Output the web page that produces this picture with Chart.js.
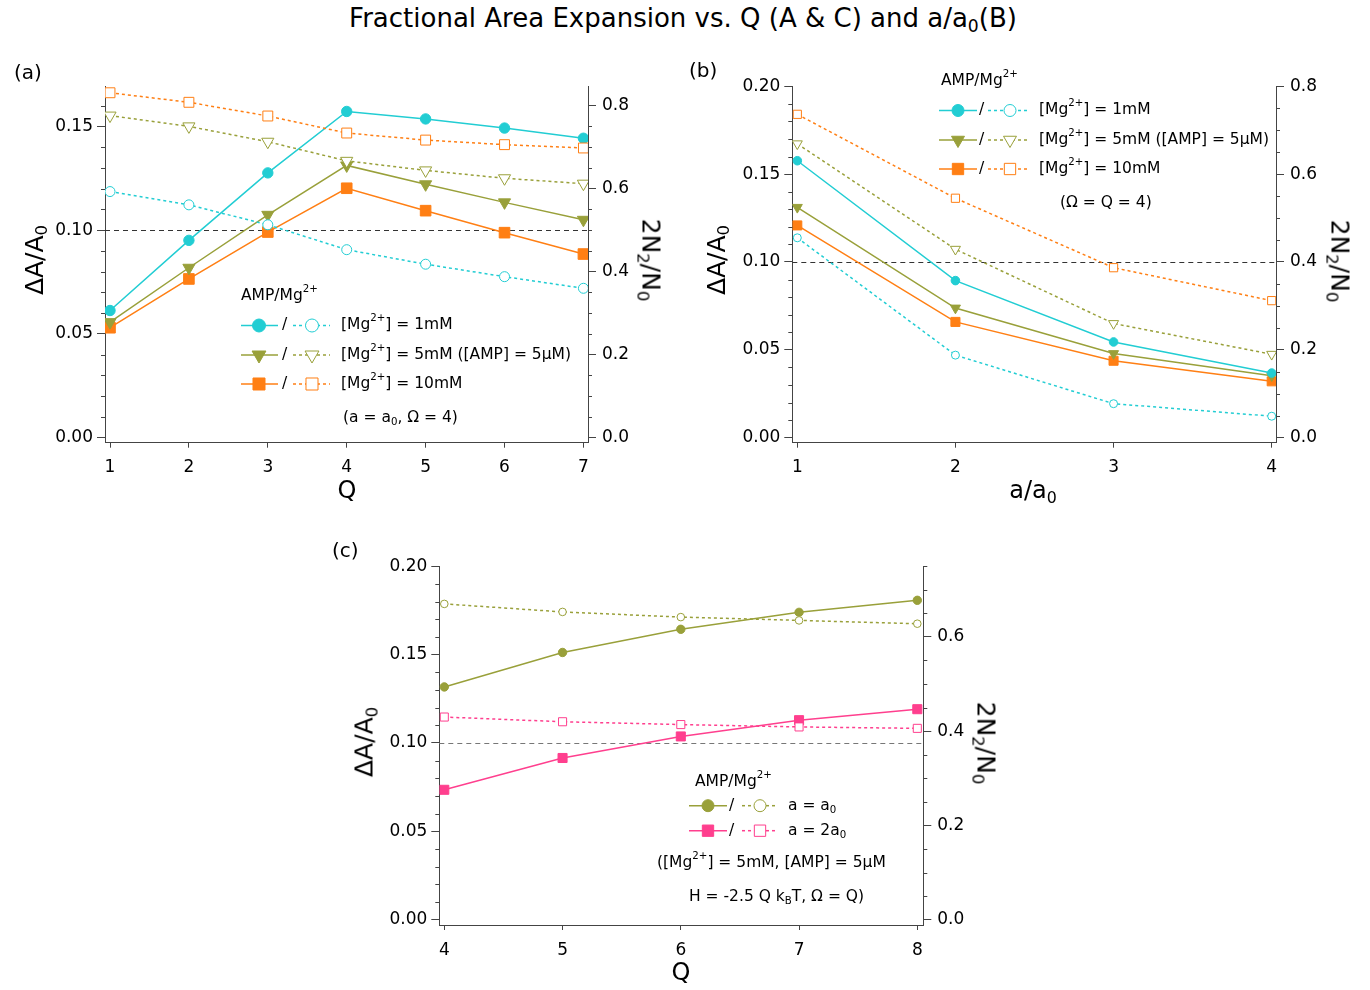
<!DOCTYPE html>
<html>
<head>
<meta charset="utf-8">
<script src="https://cdn.jsdelivr.net/npm/chart.js@4.4.1/dist/chart.umd.min.js"></script>
<style>
  body { margin: 0; background: #fff; }
  #page { position: relative; width: 1370px; height: 990px; overflow: hidden; font-family: "DejaVu Sans", sans-serif; color: #000; }
  canvas { position: absolute; }
  .t { position: absolute; white-space: nowrap; line-height: 1; transform: translateY(-50%); font-size: 15.5px; }
  .t sub { font-size: 0.66em; vertical-align: -0.3em; line-height: 0; }
  .t sup { font-size: 0.66em; vertical-align: 0.8em; line-height: 0; }
  .ctr { transform: translate(-50%, -50%); }
  .rl { transform: translate(-50%, -50%) rotate(-90deg); font-size: 25px; }
  .rr { transform: translate(-50%, -50%) rotate(90deg); font-size: 25px; }
  .ax { font-size: 24px; }
</style>
</head>
<body>
<div id="page">
  <canvas id="chartA" width="680" height="420" style="left:0px;top:70px"></canvas>
  <canvas id="chartB" width="680" height="420" style="left:690px;top:70px"></canvas>
  <canvas id="chartC" width="680" height="440" style="left:330px;top:550px"></canvas>

  <div class="t ctr" style="left:683px;top:18px;font-size:26px">Fractional Area Expansion vs. Q (A &amp; C) and a/a<sub>0</sub>(B)</div>

  <!-- panel (a) -->
  <div class="t" style="left:14px;top:72px;font-size:20px">(a)</div>
  <div class="t rl" style="left:34px;top:260px">ΔA/A<sub>0</sub></div>
  <div class="t rr" style="left:651px;top:260px">2N<sub>2</sub>/N<sub>0</sub></div>
  <div class="t ctr ax" style="left:347px;top:490px">Q</div>
  <div class="t" style="left:241px;top:296px">AMP/Mg<sup>2+</sup></div>
  <div class="t" style="left:282px;top:325px">/</div>
  <div class="t" style="left:282px;top:355px">/</div>
  <div class="t" style="left:282px;top:384px">/</div>
  <div class="t" style="left:341px;top:325px">[Mg<sup>2+</sup>] = 1mM</div>
  <div class="t" style="left:341px;top:355px">[Mg<sup>2+</sup>] = 5mM ([AMP] = 5μM)</div>
  <div class="t" style="left:341px;top:384px">[Mg<sup>2+</sup>] = 10mM</div>
  <div class="t" style="left:343px;top:418px">(a = a<sub>0</sub>, Ω = 4)</div>

  <!-- panel (b) -->
  <div class="t" style="left:689px;top:70px;font-size:20px">(b)</div>
  <div class="t rl" style="left:716px;top:260px">ΔA/A<sub>0</sub></div>
  <div class="t rr" style="left:1340px;top:261px">2N<sub>2</sub>/N<sub>0</sub></div>
  <div class="t ctr ax" style="left:1033px;top:490px">a/a<sub>0</sub></div>
  <div class="t" style="left:941px;top:81px">AMP/Mg<sup>2+</sup></div>
  <div class="t" style="left:979px;top:110px">/</div>
  <div class="t" style="left:979px;top:140px">/</div>
  <div class="t" style="left:979px;top:169px">/</div>
  <div class="t" style="left:1039px;top:110px">[Mg<sup>2+</sup>] = 1mM</div>
  <div class="t" style="left:1039px;top:140px">[Mg<sup>2+</sup>] = 5mM ([AMP] = 5μM)</div>
  <div class="t" style="left:1039px;top:169px">[Mg<sup>2+</sup>] = 10mM</div>
  <div class="t" style="left:1060px;top:203px">(Ω = Q = 4)</div>

  <!-- panel (c) -->
  <div class="t" style="left:332px;top:550px;font-size:20px">(c)</div>
  <div class="t rl" style="left:364px;top:742px">ΔA/A<sub>0</sub></div>
  <div class="t rr" style="left:986px;top:743px">2N<sub>2</sub>/N<sub>0</sub></div>
  <div class="t ctr ax" style="left:681px;top:972px">Q</div>
  <div class="t" style="left:695px;top:782px">AMP/Mg<sup>2+</sup></div>
  <div class="t" style="left:729px;top:806px">/</div>
  <div class="t" style="left:729px;top:831px">/</div>
  <div class="t" style="left:788px;top:806px">a = a<sub>0</sub></div>
  <div class="t" style="left:788px;top:831px">a = 2a<sub>0</sub></div>
  <div class="t" style="left:657px;top:863px">([Mg<sup>2+</sup>] = 5mM, [AMP] = 5μM</div>
  <div class="t" style="left:689px;top:897px">H = -2.5 Q k<sub>B</sub>T, Ω = Q)</div>
</div>

<script>
// ---- data ----
const panelA_Q = [1, 2, 3, 4, 5, 6, 7];
const areaA_1mM = [0.0613, 0.0951, 0.1276, 0.1572, 0.1536, 0.1492, 0.1443];
const areaA_5mM = [0.0557, 0.0819, 0.1074, 0.1312, 0.1221, 0.1134, 0.1050];
const areaA_10mM = [0.0530, 0.0765, 0.0991, 0.1202, 0.1094, 0.0988, 0.0885];
const n2A_1mM = [0.593, 0.561, 0.513, 0.453, 0.418, 0.388, 0.360];
const n2A_5mM = [0.776, 0.750, 0.713, 0.667, 0.644, 0.625, 0.612];
const n2A_10mM = [0.831, 0.808, 0.775, 0.734, 0.717, 0.706, 0.698];

const panelB_ratio = [1, 2, 3, 4];
const areaB_1mM = [0.1576, 0.0894, 0.0545, 0.0368];
const areaB_5mM = [0.1311, 0.0738, 0.0479, 0.0353];
const areaB_10mM = [0.1208, 0.0659, 0.0438, 0.0321];
const n2B_1mM = [0.455, 0.188, 0.0775, 0.049];
const n2B_5mM = [0.669, 0.429, 0.260, 0.190];
const n2B_10mM = [0.736, 0.545, 0.387, 0.312];

const panelC_Q = [4, 5, 6, 7, 8];
const areaC_a0 = [0.1317, 0.1512, 0.1643, 0.1739, 0.1807];
const areaC_2a0 = [0.0735, 0.0915, 0.1037, 0.1129, 0.1191];
const n2C_a0 = [0.670, 0.653, 0.642, 0.635, 0.628];
const n2C_2a0 = [0.430, 0.420, 0.414, 0.409, 0.406];

const leftTicksA = [0, 0.05, 0.10, 0.15];
const leftTicksBC = [0, 0.05, 0.10, 0.15, 0.20];
const rightTicksAB = [0, 0.2, 0.4, 0.6, 0.8];
const rightTicksC = [0, 0.2, 0.4, 0.6];
const refArea = 0.10;

// ---- styling ----
const FONT = '"DejaVu Sans", sans-serif';
const AXIS = '#444';
const CYAN = '#22cdd3';
const OLIVE = '#99a03a';
const ORANGE = '#ff7f14';
const PINK = '#ff3f8e';

function drawMarker(ctx, style, x, y, r, color, open) {
  ctx.save();
  ctx.fillStyle = open ? '#fff' : color;
  ctx.strokeStyle = color;
  ctx.lineWidth = 1;
  ctx.setLineDash([]);
  ctx.beginPath();
  if (style === 'circle') {
    ctx.arc(x, y, r, 0, Math.PI * 2);
  } else if (style === 'rect') {
    const s = r * Math.SQRT1_2;
    ctx.rect(x - s, y - s, 2 * s, 2 * s);
  } else {
    ctx.moveTo(x, y + r);
    ctx.lineTo(x - 0.866 * r, y - 0.5 * r);
    ctx.lineTo(x + 0.866 * r, y - 0.5 * r);
    ctx.closePath();
  }
  ctx.fill();
  ctx.stroke();
  ctx.restore();
}

const extras = {
  id: 'extras',
  beforeDatasetsDraw(chart, args, o) {
    const ctx = chart.ctx, ca = chart.chartArea;
    const y = Math.round(chart.scales.y.getPixelForValue(refArea)) + 0.5;
    ctx.save();
    ctx.strokeStyle = o.refColor;
    ctx.lineWidth = 1;
    ctx.setLineDash([5, 4]);
    ctx.beginPath();
    ctx.moveTo(ca.left, y);
    ctx.lineTo(ca.right, y);
    ctx.stroke();
    ctx.restore();
  },
  afterDraw(chart, args, o) {
    const ctx = chart.ctx;
    // minor ticks
    ctx.save();
    ctx.strokeStyle = AXIS;
    ctx.lineWidth = 1;
    for (const id of ['y', 'y2']) {
      const sc = chart.scales[id];
      const step = o.minor[id];
      const n = Math.floor(sc.max / step + 1e-6);
      for (let i = 1; i <= n; i++) {
        const v = i * step;
        if (sc.ticks.some(t => Math.abs(t.value - v) < 1e-6)) continue;
        const py = Math.round(sc.getPixelForValue(v)) + 0.5;
        const x0 = id === 'y' ? chart.chartArea.left : chart.chartArea.right;
        const dx = id === 'y' ? -4 : 4;
        ctx.beginPath();
        ctx.moveTo(x0, py);
        ctx.lineTo(x0 + dx, py);
        ctx.stroke();
      }
    }
    ctx.restore();
    // legend samples
    const L = o.legend;
    L.rows.forEach(row => {
      const y = row.y - L.oy;
      [[row.solid, L.s0, L.s1, L.m1, false], [row.open, L.d0, L.d1, L.m2, true]].forEach(([s, a, b, m, open]) => {
        ctx.save();
        ctx.strokeStyle = s.color;
        ctx.lineWidth = 1.5;
        ctx.setLineDash(open ? [3, 3] : []);
        ctx.beginPath();
        ctx.moveTo(a - L.ox, y);
        ctx.lineTo(b - L.ox, y);
        ctx.stroke();
        ctx.restore();
        drawMarker(ctx, s.marker, m - L.ox, y, s.legendR, s.color, open);
      });
    });
  }
};

function series(label, xs, values, axis, color, marker, r, open) {
  return {
    label,
    data: xs.map((x, i) => ({ x, y: values[i] })),
    yAxisID: axis,
    borderColor: color,
    backgroundColor: open ? '#fff' : color,
    pointBackgroundColor: open ? '#fff' : color,
    pointBorderColor: color,
    pointBorderWidth: 1,
    borderWidth: 1.5,
    borderDash: open ? [3, 3] : [],
    pointStyle: marker === 'tri' ? 'triangle' : marker,
    pointRotation: marker === 'tri' ? 180 : 0,
    pointRadius: r,
    tension: 0,
    fill: false
  };
}

function panel(id, p) {
  const tickFont = { family: FONT, size: 17 };
  const cv = document.getElementById(id);
  const W = cv.width, H = cv.height;
  return new Chart(cv, {
    type: 'line',
    data: { datasets: p.datasets },
    plugins: [extras],
    options: {
      responsive: false,
      animation: false,
      devicePixelRatio: 1,
      layout: { padding: { top: p.area.top, left: 0, right: 0, bottom: 0 } },
      plugins: {
        legend: { display: false },
        tooltip: { enabled: false },
        extras: { refColor: p.refColor, minor: { y: 0.01, y2: 0.05 }, legend: p.legend }
      },
      scales: {
        x: {
          type: 'linear', position: 'bottom', min: p.x[0], max: p.x[1],
          afterBuildTicks: s => { s.ticks = p.xTicks.map(v => ({ value: v })); },
          afterFit: s => { s.height = H - p.area.bottom; },
          ticks: { font: tickFont, color: '#000', padding: 10, callback: v => String(v) },
          grid: { drawOnChartArea: false, tickLength: 5, color: AXIS },
          border: { color: AXIS, width: 1 }
        },
        y: {
          position: 'left', min: p.y[0], max: p.y[1],
          afterBuildTicks: s => { s.ticks = p.yTicks.map(v => ({ value: v })); },
          afterFit: s => { s.width = p.area.left; },
          ticks: { font: tickFont, color: '#000', padding: 4, callback: v => v.toFixed(2) },
          grid: { drawOnChartArea: false, tickLength: 8, color: AXIS },
          border: { color: AXIS, width: 1 }
        },
        y2: {
          position: 'right', min: p.y2[0], max: p.y2[1],
          afterBuildTicks: s => { s.ticks = p.y2Ticks.map(v => ({ value: v })); },
          afterFit: s => { s.width = W - p.area.right; },
          ticks: { font: tickFont, color: '#000', padding: 6, callback: v => v.toFixed(1) },
          grid: { drawOnChartArea: false, tickLength: 8, color: AXIS },
          border: { color: AXIS, width: 1 }
        }
      }
    }
  });
}

// ---- panel (a) ----
const sA = {
  c1: { color: CYAN, marker: 'circle', legendR: 6.5 },
  c5: { color: OLIVE, marker: 'tri', legendR: 8 },
  c10: { color: ORANGE, marker: 'rect', legendR: 8.5 }
};
panel('chartA', {
  area: { left: 105, right: 588, top: 12.7, bottom: 372.7 },
  x: [0.9366, 7.058], y: [-0.00239, 0.16937], y2: [-0.01193, 0.8468],
  xTicks: panelA_Q, yTicks: leftTicksA, y2Ticks: rightTicksAB,
  refColor: '#333',
  datasets: [
    series('1mM dN', panelA_Q, n2A_1mM, 'y2', CYAN, 'circle', 5, true),
    series('5mM dN', panelA_Q, n2A_5mM, 'y2', OLIVE, 'tri', 7, true),
    series('10mM dN', panelA_Q, n2A_10mM, 'y2', ORANGE, 'rect', 7, true),
    series('1mM dA', panelA_Q, areaA_1mM, 'y', CYAN, 'circle', 5.2, false),
    series('5mM dA', panelA_Q, areaA_5mM, 'y', OLIVE, 'tri', 7, false),
    series('10mM dA', panelA_Q, areaA_10mM, 'y', ORANGE, 'rect', 7.5, false)
  ],
  legend: {
    ox: 0, oy: 70, s0: 241, s1: 278, m1: 259, d0: 293, d1: 330, m2: 312,
    rows: [
      { y: 325.5, solid: sA.c1, open: sA.c1 },
      { y: 355, solid: sA.c5, open: sA.c5 },
      { y: 384, solid: sA.c10, open: sA.c10 }
    ]
  }
});

// ---- panel (b) ----
const sB = {
  c1: { color: CYAN, marker: 'circle', legendR: 6 },
  c5: { color: OLIVE, marker: 'tri', legendR: 7.5 },
  c10: { color: ORANGE, marker: 'rect', legendR: 8 }
};
panel('chartB', {
  area: { left: 102.3, right: 586, top: 12.7, bottom: 372.7 },
  x: [0.9684, 4.0272], y: [-0.00282, 0.20], y2: [-0.01127, 0.80],
  xTicks: panelB_ratio, yTicks: leftTicksBC, y2Ticks: rightTicksAB,
  refColor: '#333',
  datasets: [
    series('1mM dN', panelB_ratio, n2B_1mM, 'y2', CYAN, 'circle', 4, true),
    series('5mM dN', panelB_ratio, n2B_5mM, 'y2', OLIVE, 'tri', 5.8, true),
    series('10mM dN', panelB_ratio, n2B_10mM, 'y2', ORANGE, 'rect', 5.8, true),
    series('1mM dA', panelB_ratio, areaB_1mM, 'y', CYAN, 'circle', 4.3, false),
    series('5mM dA', panelB_ratio, areaB_5mM, 'y', OLIVE, 'tri', 5.8, false),
    series('10mM dA', panelB_ratio, areaB_10mM, 'y', ORANGE, 'rect', 6.4, false)
  ],
  legend: {
    ox: 690, oy: 70, s0: 939, s1: 977, m1: 958, d0: 988, d1: 1028, m2: 1010,
    rows: [
      { y: 110.5, solid: sB.c1, open: sB.c1 },
      { y: 140, solid: sB.c5, open: sB.c5 },
      { y: 169, solid: sB.c10, open: sB.c10 }
    ]
  }
});

// ---- panel (c) ----
const sC = {
  a0: { color: OLIVE, marker: 'circle', legendR: 6 },
  a2: { color: PINK, marker: 'rect', legendR: 8 }
};
panel('chartC', {
  area: { left: 109.3, right: 593.3, top: 14.7, bottom: 375 },
  x: [3.9577, 8.0507], y: [-0.00299, 0.20], y2: [-0.0112, 0.75],
  xTicks: panelC_Q, yTicks: leftTicksBC, y2Ticks: rightTicksC,
  refColor: '#777',
  datasets: [
    series('a0 dN', panelC_Q, n2C_a0, 'y2', OLIVE, 'circle', 3.8, true),
    series('2a0 dN', panelC_Q, n2C_2a0, 'y2', PINK, 'rect', 5.7, true),
    series('a0 dA', panelC_Q, areaC_a0, 'y', OLIVE, 'circle', 4.2, false),
    series('2a0 dA', panelC_Q, areaC_2a0, 'y', PINK, 'rect', 6.4, false)
  ],
  legend: {
    ox: 330, oy: 550, s0: 689, s1: 727, m1: 708, d0: 742, d1: 778, m2: 760,
    rows: [
      { y: 805.7, solid: sC.a0, open: sC.a0 },
      { y: 830.7, solid: sC.a2, open: sC.a2 }
    ]
  }
});
</script>
</body>
</html>
